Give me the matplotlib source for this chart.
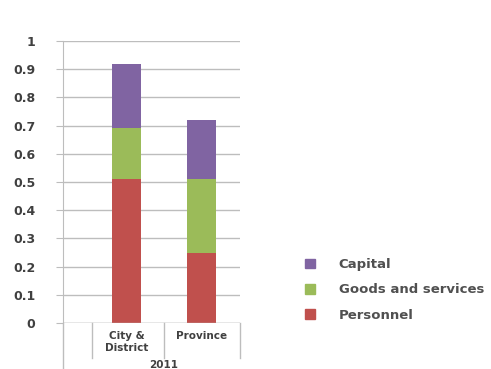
import matplotlib
matplotlib.use("Agg")
import matplotlib.pyplot as plt
import matplotlib.transforms as mtransforms
from matplotlib.patches import Patch

# budget shares, 2011
categories = ["City &\nDistrict", "Province"]
personnel = [0.51, 0.25]
goods = [0.18, 0.26]
capital = [0.23, 0.21]
year = "2011"
yticks = [0, 0.1, 0.2, 0.3, 0.4, 0.5, 0.6, 0.7, 0.8, 0.9, 1]

red = "#C0504D"
green = "#9BBB59"
purple = "#8064A2"
grid = "#BDBDBD"
txt = "#404040"

fig = plt.figure(figsize=(4.91, 3.69), dpi=100)
ax = fig.add_axes([63 / 491, 46 / 369, 177 / 491, 282 / 369])

x = list(range(len(categories)))
w = 0.39
ax.bar(x, personnel, w, color=red, zorder=3, label="Personnel")
bottom2 = personnel
ax.bar(x, goods, w, bottom=bottom2, color=green, zorder=3, label="Goods and services")
bottom3 = [p + g for p, g in zip(personnel, goods)]
ax.bar(x, capital, w, bottom=bottom3, color=purple, zorder=3, label="Capital")

ax.set_xlim(-0.847, 1.513)
ax.set_ylim(0, 1)
ax.set_yticks(yticks)
ax.set_yticklabels(["0" if v == 0 else ("1" if v == 1 else f"{v:.1f}") for v in yticks],
                   fontsize=9, fontweight="bold", color=txt)
ax.tick_params(axis="y", length=5, color=grid, pad=15)
ax.yaxis.grid(True, color=grid, linewidth=1, zorder=0)
ax.set_xticks([])

for s in ["top", "right", "bottom"]:
    ax.spines[s].set_visible(False)
ax.spines["left"].set_color(grid)
ax.axhline(0, color=grid, linewidth=1, zorder=4)

# category box lines under the axis
tr = mtransforms.blended_transform_factory(ax.transData, ax.transAxes)
ax.plot([-0.847, -0.847], [0, -0.163], color=grid, lw=1, transform=tr, clip_on=False)
for xd in [-0.46, 0.5, 1.513]:
    ax.plot([xd, xd], [0, -0.124], color=grid, lw=1, transform=tr, clip_on=False)

for xi, lab in zip(x, categories):
    ax.text(xi, -0.03, lab, transform=tr, ha="center", va="top", fontsize=7.5,
            fontweight="bold", color=txt, linespacing=1.25)
ax.text(0.5, -0.15, year, transform=tr, ha="center", va="center", fontsize=7.5,
        fontweight="bold", color=txt)

handles = [Patch(color=purple), Patch(color=green), Patch(color=red)]
labels = ["Capital", "Goods and services", "Personnel"]
fig.legend(handles, labels, loc="upper left", bbox_to_anchor=(305 / 491, 1 - 258 / 369),
           frameon=False, borderpad=0, borderaxespad=0,
           handlelength=0.75, handleheight=0.75,
           handletextpad=1.8, labelspacing=0.93, labelcolor="#505050",
           prop={"size": 9.5, "weight": "bold"})

fig.savefig("out.png", dpi=100)
